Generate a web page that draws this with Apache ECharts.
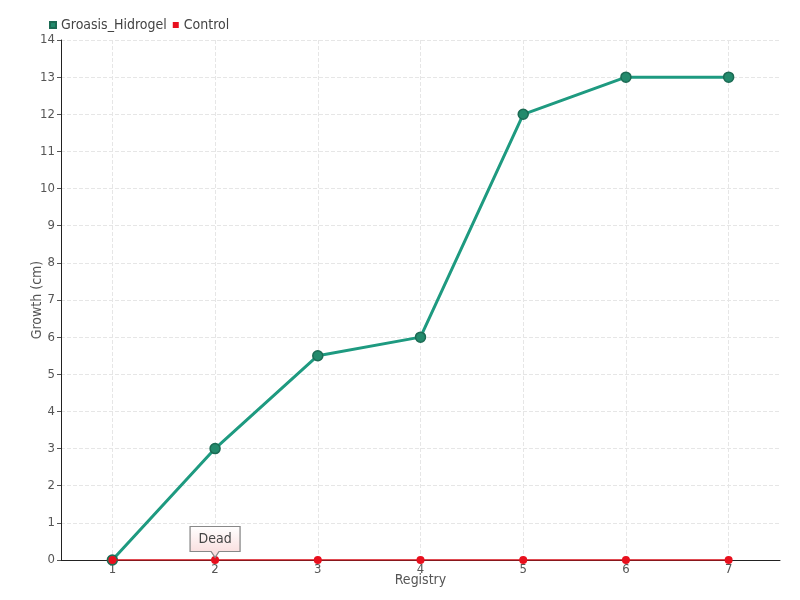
<!DOCTYPE html>
<html><head><meta charset="utf-8">
<script src="https://cdn.jsdelivr.net/npm/echarts@6/dist/echarts.min.js"></script>
<style>html,body{margin:0;padding:0;background:#fff}#c{width:800px;height:600px}</style>
</head><body><div id="c"></div>
<script>
const categories = ['1','2','3','4','5','6','7'];
const groasis = [0, 3, 5.5, 6, 12, 13, 13];
const control = [0, 0, 0, 0, 0, 0, 0];
const deadIndex = 1;
const deadLabel = 'Dead';

const FONT = "'Liberation Sans Narrow','DejaVu Sans Condensed',sans-serif";
const chart = echarts.init(document.getElementById('c'));
chart.setOption({
  animation: false,
  textStyle: {fontFamily: FONT},
  legend: {
    left: 44, top: 13, itemWidth: 6, itemHeight: 6, itemGap: 6,
    icon: 'rect',
    textStyle: {fontFamily: FONT, fontSize: 14, color: '#444'},
    data: ['Groasis_Hidrogel', 'Control']
  },
  grid: {left: 61, right: 20, top: 40, bottom: 40},
  xAxis: {
    type: 'category', data: categories, boundaryGap: true,
    name: 'Registry', nameLocation: 'middle', nameGap: 13, nameMoveOverlap: false,
    nameTextStyle: {fontFamily: FONT, fontSize: 14, color: '#555'},
    axisLine: {lineStyle: {color: '#222'}},
    axisTick: {alignWithLabel: true, length: 5, lineStyle: {color: '#555'}},
    axisLabel: {fontFamily: FONT, fontSize: 13, color: '#555', margin: 3},
    splitLine: {show: true, alignWithLabel: true, lineStyle: {type: 'dashed', color: '#e6e6e6'}}
  },
  yAxis: {
    type: 'value', min: 0, max: 14, interval: 1,
    name: 'Growth (cm)', nameLocation: 'middle', nameGap: 17, nameMoveOverlap: false,
    nameTextStyle: {fontFamily: FONT, fontSize: 14, color: '#555'},
    axisLine: {show: true, lineStyle: {color: '#222'}},
    axisTick: {show: true, length: 4, lineStyle: {color: '#555'}},
    axisLabel: {fontFamily: FONT, fontSize: 13, color: '#555', margin: 6},
    splitLine: {lineStyle: {type: 'dashed', color: '#e6e6e6'}}
  },
  series: [
    {
      name: 'Groasis_Hidrogel', type: 'line', data: groasis,
      color: '#1a9a80',
      lineStyle: {width: 3, color: '#1e9a80'},
      symbol: 'circle', symbolSize: 10,
      itemStyle: {color: '#238a6c', borderColor: '#1c6b54', borderWidth: 1.5},
      z: 2
    },
    {
      name: 'Control', type: 'line', data: control,
      color: '#e8101e',
      lineStyle: {width: 1.5, color: '#d8101a'},
      symbol: 'circle', symbolSize: 8,
      itemStyle: {color: '#e8101e'},
      z: 3,
      markPoint: {
        data: [{coord: [deadIndex, 0], value: deadLabel}],
        symbol: 'path://M0,0 L50,0 L50,25 L29,25 L25,31 L21,25 L0,25 Z',
        symbolSize: [50, 31],
        symbolOffset: [0, -18],
        itemStyle: {
          color: {type: 'linear', x: 0, y: 0, x2: 0, y2: 1, colorStops: [
            {offset: 0, color: '#ffffff'}, {offset: 1, color: '#f9d8d8'}]},
          borderColor: '#888', borderWidth: 1
        },
        label: {show: true, formatter: deadLabel, offset: [0, -3],
          fontFamily: FONT, fontSize: 14, color: '#444'}
      }
    }
  ]
});
</script></body></html>
